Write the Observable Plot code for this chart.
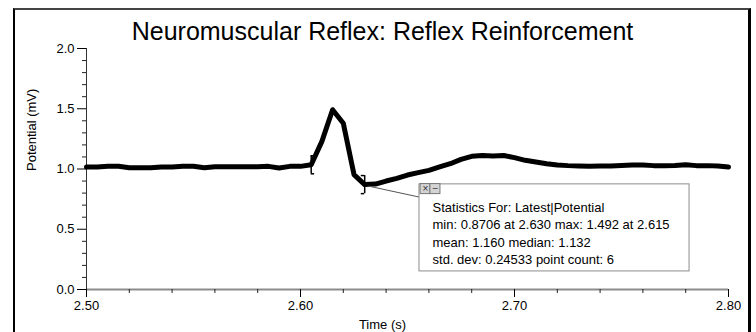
<!DOCTYPE html>
<html><head><meta charset="utf-8">
<script src="https://cdn.jsdelivr.net/npm/d3@7"></script>
<script src="https://cdn.jsdelivr.net/npm/@observablehq/plot@0.6"></script>
<style>
html,body{margin:0;padding:0;background:#fff;}
#wrap{position:relative;width:756px;height:332px;overflow:hidden;font-family:"Liberation Sans",Arial,sans-serif;}
#wrap svg{position:absolute;left:0;top:0;}
#border{position:absolute;left:13px;top:8px;width:738px;height:400px;border-left:2px solid #000;border-top:2px solid #444;border-right:3px solid #000;box-sizing:border-box;pointer-events:none;}
</style></head><body><div id="wrap"></div>
<script>
const title = "Neuromuscular Reflex: Reflex Reinforcement";
const xLabel = "Time (s)";
const yLabel = "Potential (mV)";

const time = [2.500,2.505,2.510,2.515,2.520,2.525,2.530,2.535,2.540,2.545,2.550,2.555,2.560,2.565,2.570,2.575,2.580,2.585,2.590,2.595,2.600,
  2.605,2.610,2.615,2.620,2.625,2.630,
  2.635,2.640,2.645,2.650,2.655,2.660,2.665,2.670,2.675,2.680,2.685,2.690,2.695,2.700,2.705,2.710,2.715,2.720,2.725,2.730,2.735,2.740,2.745,2.750,2.755,2.760,2.765,2.770,2.775,2.780,2.785,2.790,2.795,2.800];
const potential = [1.017,1.017,1.022,1.022,1.011,1.011,1.011,1.017,1.017,1.022,1.022,1.011,1.019,1.019,1.019,1.019,1.019,1.022,1.008,1.022,1.022,
  1.035,1.229,1.492,1.380,0.9534,0.8706,
  0.875,0.900,0.922,0.950,0.970,0.989,1.017,1.044,1.080,1.105,1.112,1.108,1.112,1.094,1.072,1.058,1.044,1.033,1.028,1.025,1.022,1.025,1.025,1.030,1.033,1.033,1.028,1.028,1.030,1.036,1.028,1.028,1.025,1.017];

const xMajorTicks = [2.5, 2.6, 2.7, 2.8];
const xMinorTicks = [2.52,2.54,2.56,2.58,2.62,2.64,2.66,2.68,2.72,2.74,2.76,2.78];
const yMajorTicks = [0, 0.5, 1, 1.5, 2];
const yMinorTicks = [0.1,0.2,0.3,0.4,0.6,0.7,0.8,0.9,1.1,1.2,1.3,1.4,1.6,1.7,1.8,1.9];

const selection = [2.605, 2.630];
const statsLines = [
  "Statistics For: Latest|Potential",
  "min: 0.8706 at 2.630 max: 1.492 at 2.615",
  "mean: 1.160 median: 1.132",
  "std. dev: 0.24533 point count: 6"
];

// annotation layout (data coordinates)
const statsBox = {x1: 2.6556, x2: 2.7818, y1: 0.15, y2: 0.8725};
const statsText = {x: 2.6617, y: 0.7475};
const buttons = [
  {x1: 2.6561, x2: 2.6607, y1: 0.7917, y2: 0.875, glyph: "×"},
  {x1: 2.6607, x2: 2.6654, y1: 0.7917, y2: 0.875, glyph: "−"}
];
const leader = {x1: 2.6318, y1: 0.858, x2: 2.6556, y2: 0.7667};

const data = time.map((t, i) => ({t, v: potential[i]}));
const brackets = selection.map((t, i) => ({t, v: potential[time.indexOf(t)], side: i === 0 ? 1 : -1}));
const bh = 0.075, bw = 0.0016;
const serifs = brackets.flatMap(b => [
  {y: b.v - bh, x1: b.t, x2: b.t + b.side * bw},
  {y: b.v + bh, x1: b.t, x2: b.t + b.side * bw}
]);

const plot = Plot.plot({
  width: 756, height: 332,
  marginLeft: 86, marginRight: 28, marginTop: 48, marginBottom: 43,
  style: {fontFamily: '"Liberation Sans", Arial, sans-serif', fontSize: "13px", color: "#000", background: "transparent"},
  x: {domain: [2.5, 2.8]},
  y: {domain: [0, 2]},
  marks: [
    Plot.ruleY([0], {stroke: "#8c8c8c", strokeWidth: 2}),
    Plot.ruleX([2.5], {stroke: "#333", strokeWidth: 1}),
    Plot.axisX({ticks: xMajorTicks, tickFormat: d3.format(".2f"), tickSize: 8, tickPadding: 3, stroke: "#000", label: null, fontSize: 13}),
    Plot.axisX({ticks: xMinorTicks, tickFormat: () => "", tickSize: 4, stroke: "#222", label: null}),
    Plot.axisY({ticks: yMajorTicks, tickFormat: d3.format(".1f"), tickSize: 9, tickPadding: 3, stroke: "#000", label: null, fontSize: 13}),
    Plot.axisY({ticks: yMinorTicks, tickFormat: () => "", tickSize: 4, stroke: "#222", label: null}),
    Plot.text([title], {frameAnchor: "top", dx: -25, dy: -9, lineAnchor: "bottom", fontSize: 25, fill: "#000"}),
    Plot.text([xLabel], {frameAnchor: "bottom", dx: -25, dy: 39, lineAnchor: "bottom", fontSize: 13, fill: "#000"}),
    Plot.text([yLabel], {frameAnchor: "left", dx: -55, dy: 2, rotate: -90, fontSize: 13, fill: "#000"}),
    Plot.line(data, {x: "t", y: "v", stroke: "#000", strokeWidth: 5}),
    Plot.ruleX(brackets, {x: "t", y1: d => d.v - bh, y2: d => d.v + bh, stroke: "#000", strokeWidth: 1.5}),
    Plot.ruleY(serifs, {y: "y", x1: "x1", x2: "x2", stroke: "#000", strokeWidth: 1.5}),
    Plot.link([leader], {x1: "x1", y1: "y1", x2: "x2", y2: "y2", stroke: "#555", strokeWidth: 1}),
    Plot.rect([statsBox], {x1: "x1", x2: "x2", y1: "y1", y2: "y2", fill: "#fff", stroke: "#8c8c8c", strokeWidth: 1}),
    Plot.rect(buttons, {x1: "x1", x2: "x2", y1: "y1", y2: "y2", fill: "#d4d4d4", stroke: "#777", strokeWidth: 1}),
    Plot.text(buttons, {x: d => (d.x1 + d.x2) / 2, y: d => (d.y1 + d.y2) / 2, text: "glyph", fontSize: 10, fill: "#333"}),
    Plot.text([statsLines.join("\n")], {x: statsText.x, y: statsText.y, textAnchor: "start", lineAnchor: "top", lineHeight: 1.346, fontSize: 13, fill: "#000"})
  ]
});
const wrap = document.getElementById("wrap");
wrap.appendChild(plot);
const border = document.createElement("div");
border.id = "border";
wrap.appendChild(border);
</script>
</body></html>
